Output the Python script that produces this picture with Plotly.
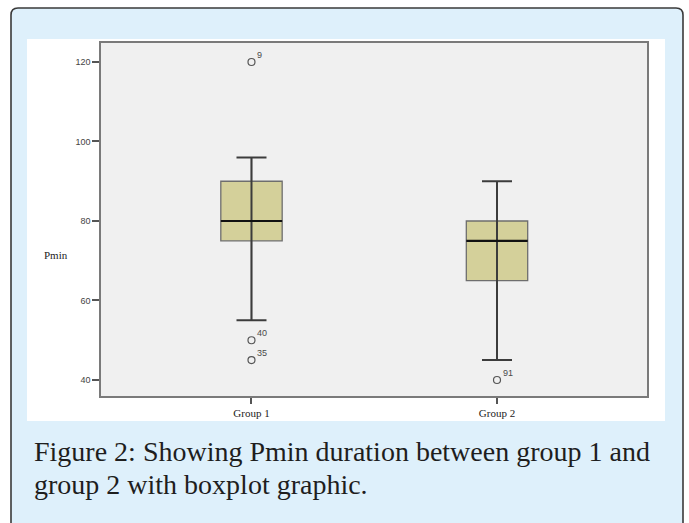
import plotly.graph_objects as go

# ---- data ----
groups = ["Group 1", "Group 2"]
q1 = [75, 65]
median = [80, 75]
q3 = [90, 80]
lower_whisker = [55, 45]
upper_whisker = [96, 90]
outlier_group = [0, 0, 0, 1]
outlier_values = [120, 50, 45, 40]
outlier_labels = ["9", "40", "35", "91"]
y_ticks = [40, 60, 80, 100, 120]
caption_lines = ["Figure 2: Showing Pmin duration between group 1 and",
                 "group 2 with boxplot graphic."]

# ---- layout geometry (pixels) ----
FW, FH = 689, 523
L, R, T, B = 101, 647, 43, 396
W, H = R - L, B - T

def px(p):
    return (p - L) / W

def py(p):
    return (B - p) / H

xpos = list(range(len(groups)))
box_w = 0.25

fig = go.Figure()

# whiskers with caps
fig.add_trace(go.Scatter(
    x=xpos, y=median, mode="markers",
    marker=dict(size=0.1, color="rgba(0,0,0,0)"),
    error_y=dict(type="data", symmetric=False,
                 array=[u - m for u, m in zip(upper_whisker, median)],
                 arrayminus=[m - l for m, l in zip(median, lower_whisker)],
                 width=15, thickness=2, color="#3c3c3c"),
    hoverinfo="skip", showlegend=False))

# boxes
fig.add_trace(go.Box(
    x=xpos, q1=q1, median=median, q3=q3,
    lowerfence=lower_whisker, upperfence=upper_whisker,
    width=box_w, fillcolor="#d4d09a",
    line=dict(color="#6e6e6e", width=1.3),
    whiskerwidth=0, showlegend=False, boxpoints=False))

# medians
fig.add_trace(go.Scatter(
    x=xpos, y=median, mode="markers",
    marker=dict(size=0.1, color="rgba(0,0,0,0)"),
    error_x=dict(type="constant", value=box_w / 2, width=0,
                 thickness=2.2, color="#111111"),
    hoverinfo="skip", showlegend=False))

# outliers
fig.add_trace(go.Scatter(
    x=[xpos[g] for g in outlier_group], y=outlier_values,
    mode="markers",
    marker=dict(symbol="circle-open", size=7, color="#555555",
                line=dict(width=1.2, color="#555555")),
    hoverinfo="skip", showlegend=False))

shapes = []
# outer frame (rounded)
fx0, fx1, fy0, fy1, r = 11, 683, 8, 540, 7
rx, ry = r / W, r / H
path = (f"M {px(fx0)+rx} {py(fy0)} L {px(fx1)-rx} {py(fy0)} "
        f"Q {px(fx1)} {py(fy0)} {px(fx1)} {py(fy0)-ry} "
        f"L {px(fx1)} {py(fy1)+ry} Q {px(fx1)} {py(fy1)} {px(fx1)-rx} {py(fy1)} "
        f"L {px(fx0)+rx} {py(fy1)} Q {px(fx0)} {py(fy1)} {px(fx0)} {py(fy1)+ry} "
        f"L {px(fx0)} {py(fy0)-ry} Q {px(fx0)} {py(fy0)} {px(fx0)+rx} {py(fy0)} Z")
shapes.append(dict(type="path", xref="paper", yref="paper", path=path,
                   fillcolor="#def0fb", line=dict(color="#3a3a3a", width=1.6),
                   layer="below"))
# white panel
shapes.append(dict(type="rect", xref="paper", yref="paper",
                   x0=px(27), x1=px(665), y0=py(421), y1=py(39),
                   fillcolor="#ffffff", line=dict(width=0), layer="below"))
# plot area
shapes.append(dict(type="rect", xref="paper", yref="paper",
                   x0=0, x1=1, y0=0, y1=1,
                   fillcolor="#f0f0f0", line=dict(width=0), layer="below"))

annotations = [
    dict(text="Pmin", xref="paper", yref="paper", x=px(56), y=py(255),
         xanchor="center", yanchor="middle", showarrow=False,
         font=dict(family="Liberation Serif", size=11, color="#222222")),
]
for g, v, lab in zip(outlier_group, outlier_values, outlier_labels):
    annotations.append(dict(text=lab, x=xpos[g], y=v, xref="x", yref="y",
                            xanchor="left", yanchor="middle", xshift=4, yshift=7,
                            showarrow=False,
                            font=dict(family="Liberation Sans", size=9,
                                      color="#4a4a4a")))
for line, yc in zip(caption_lines, [451, 484]):
    annotations.append(dict(text=line, xref="paper", yref="paper",
                            x=px(32), y=py(yc), xanchor="left", yanchor="middle",
                            showarrow=False,
                            font=dict(family="Liberation Serif", size=28,
                                      color="#1e1e1e")))

fig.update_layout(
    width=FW, height=FH,
    margin=dict(l=L, r=FW - R, t=T, b=FH - B),
    paper_bgcolor="#ffffff", plot_bgcolor="rgba(0,0,0,0)",
    shapes=shapes, annotations=annotations,
    xaxis=dict(range=[-0.613, 1.611], tickvals=xpos, ticktext=groups,
               showgrid=False, zeroline=False, showline=True, mirror=True,
               linecolor="#7a7a7a", linewidth=1.5,
               ticks="outside", ticklen=6, tickwidth=1.5, tickcolor="#555555",
               tickfont=dict(family="Liberation Serif", size=11, color="#222222")),
    yaxis=dict(range=[35.97, 124.78], tickvals=y_ticks,
               showgrid=False, zeroline=False, showline=True, mirror=True,
               linecolor="#7a7a7a", linewidth=1.5,
               ticks="outside", ticklen=7, tickwidth=1.5, tickcolor="#555555",
               tickfont=dict(family="Liberation Sans", size=9, color="#444444")),
)

fig.write_html("out.html")
